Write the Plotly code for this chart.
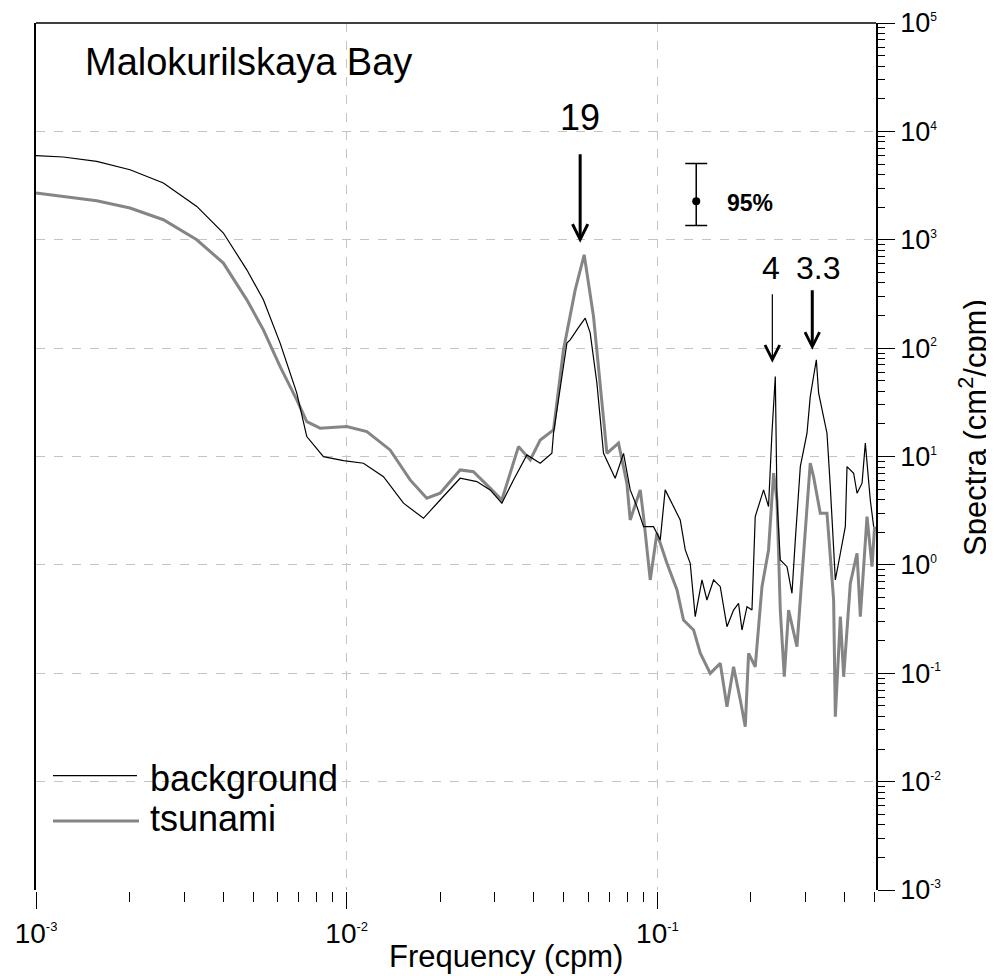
import numpy as np
import plotly.graph_objects as go

# ---------------- data ----------------
tsunami_freq = [0.00100, 0.001224, 0.001568, 0.002007, 0.002570, 0.003292, 0.004009, 0.004770,
                0.005393, 0.006105, 0.006908, 0.007438, 0.008210, 0.01000, 0.01161, 0.01379,
                0.01600, 0.01810, 0.01998, 0.02318, 0.02557, 0.02894, 0.03157, 0.03358,
                0.03571, 0.03896, 0.04195, 0.04629, 0.04985, 0.05436, 0.05811, 0.06227,
                0.06543, 0.06877, 0.07494, 0.07973, 0.08172, 0.08803, 0.09022, 0.09480,
                0.09963, 0.1073, 0.1156, 0.1213, 0.1307, 0.1374, 0.1479, 0.1593,
                0.1674, 0.1758, 0.1848, 0.1917, 0.1965, 0.2064, 0.2170, 0.2278,
                0.2365, 0.2425, 0.2485, 0.2560, 0.2643, 0.2812, 0.2918, 0.3103,
                0.3180, 0.3342, 0.3513, 0.3690, 0.3737, 0.3879, 0.3975, 0.4176,
                0.4389, 0.4497, 0.4726, 0.4904, 0.5000]
tsunami_spec = [2700, 2510, 2292, 1962, 1530, 1000, 609, 279,
                147.6, 67.6, 33.3, 21.0, 18.25, 18.9, 17.0, 11.5,
                6.08, 4.12, 4.58, 7.52, 7.25, 5.10, 3.97, 7.01,
                12.34, 9.30, 14.2, 17.6, 96.4, 345, 727, 195.7,
                47.5, 10.7, 13.3, 5.67, 2.60, 4.92, 2.79, 0.726,
                1.96, 1.035, 0.586, 0.310, 0.251, 0.153, 0.0998, 0.1234,
                0.0491, 0.1148, 0.0566, 0.0321, 0.1527, 0.1148, 0.629, 1.373,
                7.01, 3.97, 0.383, 0.0928, 0.383, 0.1757, 0.778, 8.67,
                6.52, 3.00, 3.00, 0.474, 0.0397, 0.333, 0.0928, 0.676,
                1.280, 0.333, 2.79, 0.962, 2.25]

background_freq = [0.00100, 0.001224, 0.001568, 0.002007, 0.002570, 0.003292, 0.004009, 0.004770,
                   0.005393, 0.006105, 0.006908, 0.007438, 0.008414, 0.009759, 0.01132, 0.01313,
                   0.01523, 0.01766, 0.01998, 0.02318, 0.02623, 0.02894, 0.03157, 0.03441,
                   0.03801, 0.04195, 0.04574, 0.04629, 0.05112, 0.05238, 0.05559, 0.05855,
                   0.06075, 0.06385, 0.06706, 0.07311, 0.07778, 0.08172, 0.08590, 0.09022,
                   0.09714, 0.1021, 0.1059, 0.1100, 0.1156, 0.1184, 0.1229, 0.1275,
                   0.1323, 0.1391, 0.1443, 0.1516, 0.1593, 0.1674, 0.1758, 0.1824,
                   0.1871, 0.1942, 0.2015, 0.2064, 0.2196, 0.2278, 0.2336, 0.2395,
                   0.2425, 0.2485, 0.2612, 0.2710, 0.2778, 0.2883, 0.3029, 0.3103,
                   0.3180, 0.3246, 0.3302, 0.3386, 0.3513, 0.3600, 0.3737, 0.3879,
                   0.4024, 0.4075, 0.4280, 0.4389, 0.4555, 0.4667, 0.4842, 0.4965]
background_spec = [5965, 5802, 5284, 4430, 3338, 2030, 1153, 528,
                   279, 111.2, 38.4, 15.27, 9.98, 9.17, 8.67, 6.52,
                   3.71, 2.69, 3.97, 6.30, 5.87, 4.92, 3.71, 6.08,
                   10.34, 8.67, 10.7, 16.4, 111.2, 119.3, 154, 189,
                   138.5, 47.5, 10.7, 6.30, 10.7, 4.92, 3.45, 2.25,
                   2.25, 1.70, 4.92, 3.97, 3.00, 2.60, 1.373, 1.035,
                   0.333, 0.726, 0.474, 0.726, 0.629, 0.2688, 0.383, 0.442,
                   0.2506, 0.411, 0.383, 2.79, 4.92, 3.45, 16.4, 54.7,
                   3.97, 1.11, 0.962, 0.547, 1.70, 8.07, 16.4, 35.7,
                   54.7, 78.0, 38.4, 26.9, 16.4, 5.27, 0.726, 1.280,
                   2.25, 8.07, 7.01, 4.58, 5.67, 13.3, 3.97, 2.25]

# 95% confidence interval marker
ci_freq = [0.1333]
ci_center = [2260]
ci_upper = [5040]
ci_lower = [1356]

# peak period labels (minutes) and where their arrows point
peak_labels = ["19", "4", "3.3"]
peak_label_freq = [0.0564, 0.2325, 0.3294]
peak_label_spec = [13400, 551, 551]
arrow_tip_freq = [0.0564, 0.2343, 0.3150]
arrow_tip_spec = [938, 73.2, 96.4]

# axis ticks
x_tick_vals = [1e-3, 1e-2, 1e-1]
x_tick_exps = ["-3", "-2", "-1"]
y_tick_vals = [1e-3, 1e-2, 1e-1, 1e0, 1e1, 1e2, 1e3, 1e4, 1e5]
y_tick_exps = ["-3", "-2", "-1", "0", "1", "2", "3", "4", "5"]
x_minor_vals = [m * d for d in [1e-3, 1e-2, 1e-1] for m in range(2, 10) if m * d <= 0.5]
y_minor_vals = [m * d for d in [1e-3, 1e-2, 1e-1, 1e0, 1e1, 1e2, 1e3, 1e4] for m in range(2, 10)]

FONT = "Liberation Sans, Arial, sans-serif"
GRAY = "#858585"


def power_labels(exps, size):
    return [f"10<sup><span style='font-size:{size}px'>{e}</span></sup>" for e in exps]


fig = go.Figure()
fig.add_trace(go.Scatter(x=tsunami_freq, y=tsunami_spec, mode="lines", name="tsunami",
                         line=dict(color=GRAY, width=3), showlegend=False))
fig.add_trace(go.Scatter(x=background_freq, y=background_spec, mode="lines", name="background",
                         line=dict(color="black", width=1.2), showlegend=False))
fig.add_trace(go.Scatter(
    x=ci_freq, y=ci_center, mode="markers", showlegend=False,
    marker=dict(color="black", size=8),
    error_y=dict(type="data", symmetric=False,
                 array=[u - c for u, c in zip(ci_upper, ci_center)],
                 arrayminus=[c - l for c, l in zip(ci_center, ci_lower)],
                 color="black", thickness=1.5, width=11)))

annotations = []
# title text
annotations.append(dict(xref="paper", yref="paper", x=0.056, y=0.9555, xanchor="left", yanchor="middle",
                        text="Malokurilskaya Bay", showarrow=False,
                        font=dict(family=FONT, size=38, color="black")))
# peak labels
label_sizes = [36, 32, 32]
for lab, fx, sy, sz in zip(peak_labels, peak_label_freq, peak_label_spec, label_sizes):
    annotations.append(dict(x=np.log10(fx), y=np.log10(sy), xref="x", yref="y", text=lab,
                            showarrow=False, xanchor="center", yanchor="middle",
                            font=dict(family=FONT, size=sz, color="black")))
# arrows
arrow_lengths = [-91, -71, -62]
arrow_widths = [3, 1.2, 3]
arrow_sizes = [1.0, 2.4, 0.95]
for fx, sy, ay, aw, asz in zip(arrow_tip_freq, arrow_tip_spec, arrow_lengths, arrow_widths, arrow_sizes):
    annotations.append(dict(x=np.log10(fx), y=np.log10(sy), xref="x", yref="y", text=" ",
                            showarrow=True, ax=0, ay=ay, arrowhead=5, arrowsize=asz,
                            arrowwidth=aw, arrowcolor="black", standoff=0,
                            font=dict(size=2)))
# 95% label
annotations.append(dict(x=np.log10(0.1653), y=np.log10(2196), xref="x", yref="y", text="<b>95%</b>",
                        showarrow=False, xanchor="left", yanchor="middle",
                        font=dict(family=FONT, size=23, color="black")))
# axis titles
annotations.append(dict(xref="paper", yref="paper", x=0.5595, y=-0.0765, xanchor="center", yanchor="middle",
                        text="Frequency (cpm)", showarrow=False,
                        font=dict(family=FONT, size=31, color="black")))
annotations.append(dict(xref="paper", yref="paper", x=1.1155, y=0.533, xanchor="center", yanchor="middle",
                        text="Spectra (cm<sup>2</sup>/cpm)", showarrow=False, textangle=-90,
                        font=dict(family=FONT, size=31, color="black")))
# legend texts
legend_names = ["background", "tsunami"]
legend_y = [0.1281, 0.0819]
for name, ly in zip(legend_names, legend_y):
    annotations.append(dict(xref="paper", yref="paper", x=0.1333, y=ly, xanchor="left", yanchor="middle",
                            text=name, showarrow=False, font=dict(family=FONT, size=36, color="black")))

shapes = [
    # top frame line
    dict(type="line", xref="paper", yref="paper", x0=0, x1=1, y0=1, y1=1,
         line=dict(color="black", width=1.5)),
    # legend samples
    dict(type="line", xref="paper", yref="paper", x0=0.0202, x1=0.1202, y0=0.1319, y1=0.1319,
         line=dict(color="black", width=1.2)),
    dict(type="line", xref="paper", yref="paper", x0=0.0202, x1=0.1226, y0=0.0796, y1=0.0796,
         line=dict(color=GRAY, width=3)),
]

# the page body adds an 8 px offset, so the figure is 8 px smaller and margins shifted
fig.update_layout(
    width=986, height=968,
    margin=dict(l=28, r=118, t=15, b=86, autoexpand=False),
    paper_bgcolor="white", plot_bgcolor="white",
    font=dict(family=FONT, color="black"),
    showlegend=False,
    annotations=annotations,
    shapes=shapes,
    xaxis=dict(type="log", range=[-3, -0.2966], automargin=False,
               tickmode="array", tickvals=x_tick_vals, ticktext=power_labels(x_tick_exps, 13),
               tickfont=dict(family=FONT, size=28, color="black"),
               ticks="outside", ticklen=17, tickwidth=1.2, tickcolor="black",
               minor=dict(tickmode="array", tickvals=x_minor_vals, ticks="outside", ticklen=10,
                          tickwidth=1.2, tickcolor="black", showgrid=False),
               showgrid=True, gridcolor="#c4c4c4", griddash="dash", gridwidth=1,
               showline=True, linecolor="white", linewidth=2, mirror=False, zeroline=False),
    yaxis=dict(type="log", range=[-3, 5], side="right", automargin=False,
               tickmode="array", tickvals=y_tick_vals, ticktext=power_labels(y_tick_exps, 12),
               tickfont=dict(family=FONT, size=27, color="black"),
               ticks="outside", ticklen=17, tickwidth=1.2, tickcolor="black",
               minor=dict(tickmode="array", tickvals=y_minor_vals, ticks="outside", ticklen=7,
                          tickwidth=1.2, tickcolor="black", showgrid=False),
               showgrid=True, gridcolor="#c4c4c4", griddash="dash", gridwidth=1,
               showline=True, linecolor="black", linewidth=1.5, mirror=True, zeroline=False),
)

fig.write_html("out.html")
